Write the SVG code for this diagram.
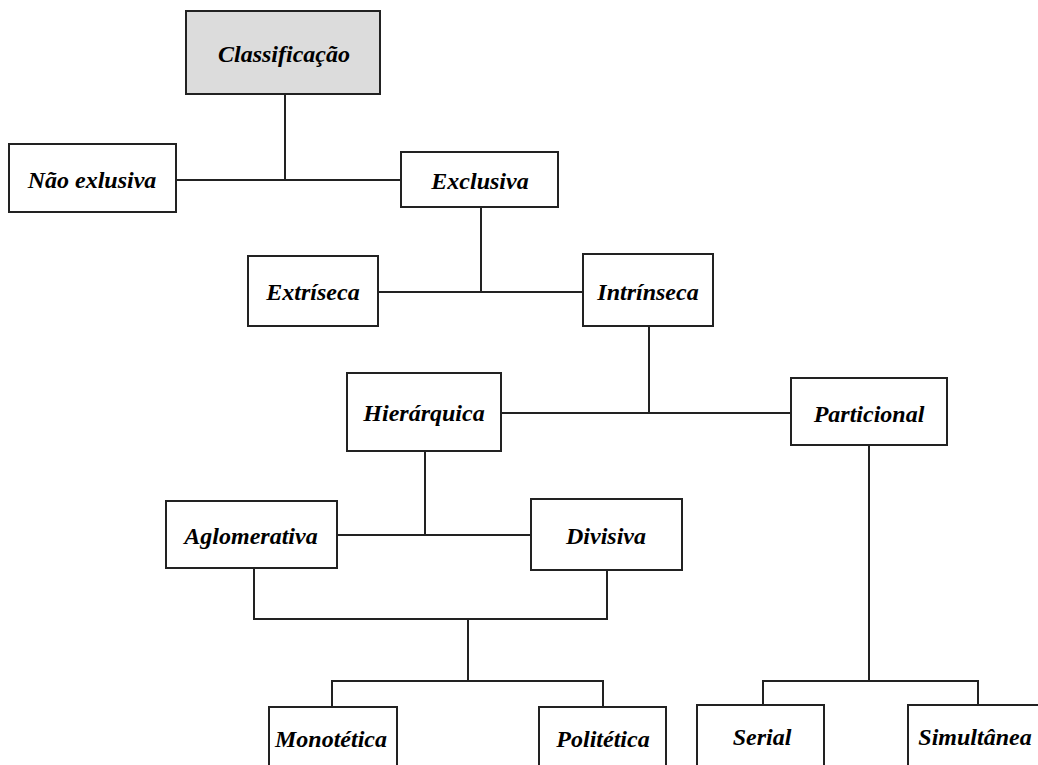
<svg xmlns="http://www.w3.org/2000/svg" width="1038" height="765" viewBox="0 0 1038 765">
<style>
.box{fill:#ffffff;stroke:#222222;stroke-width:2}
.root{fill:#dcdcdc}
.lbl{font-family:"Liberation Serif","Times New Roman",serif;font-style:italic;font-weight:bold;font-size:24px;fill:#000000;text-anchor:middle}
.conn{fill:none;stroke:#222222;stroke-width:2}
</style>
<rect width="1038" height="765" fill="#ffffff"/>
<g id="connectors" class="conn">
<path d="M285,94 V180 M176,180 H401"/>
<path d="M481,207 V292 M378,292 H583"/>
<path d="M649,326 V413 M501,413 H791"/>
<path d="M425,451 V535 M337,535 H531"/>
<path d="M254,568 V619 H607 V570 M468,619 V681 M332,707 V681 H603 V707"/>
<path d="M869,445 V681 M763,705 V681 H978 V705"/>
</g>
<g id="classificacao"><rect class="box root" x="186" y="11" width="194" height="83"/><text class="lbl" x="284" y="62">Classificação</text></g>
<g id="nao-exclusiva"><rect class="box" x="9" y="144" width="167" height="68"/><text class="lbl" x="92" y="188">Não exlusiva</text></g>
<g id="exclusiva"><rect class="box" x="401" y="152" width="157" height="55"/><text class="lbl" x="480" y="189">Exclusiva</text></g>
<g id="extriseca"><rect class="box" x="248" y="256" width="130" height="70"/><text class="lbl" x="313" y="300">Extríseca</text></g>
<g id="intrinseca"><rect class="box" x="583" y="254" width="130" height="72"/><text class="lbl" x="648" y="300">Intrínseca</text></g>
<g id="hierarquica"><rect class="box" x="347" y="373" width="154" height="78"/><text class="lbl" x="424" y="421">Hierárquica</text></g>
<g id="particional"><rect class="box" x="791" y="378" width="156" height="67"/><text class="lbl" x="869" y="422">Particional</text></g>
<g id="aglomerativa"><rect class="box" x="166" y="501" width="171" height="67"/><text class="lbl" x="251" y="544">Aglomerativa</text></g>
<g id="divisiva"><rect class="box" x="531" y="499" width="151" height="71"/><text class="lbl" x="606" y="544">Divisiva</text></g>
<g id="monotetica"><rect class="box" x="269" y="707" width="128" height="70"/><text class="lbl" x="331" y="747">Monotética</text></g>
<g id="politetica"><rect class="box" x="539" y="707" width="127" height="70"/><text class="lbl" x="603" y="747">Politética</text></g>
<g id="serial"><rect class="box" x="697" y="705" width="127" height="70"/><text class="lbl" x="762" y="745">Serial</text></g>
<g id="simultanea"><rect class="box" x="908" y="705" width="140" height="70"/><text class="lbl" x="975" y="745">Simultânea</text></g>
</svg>
